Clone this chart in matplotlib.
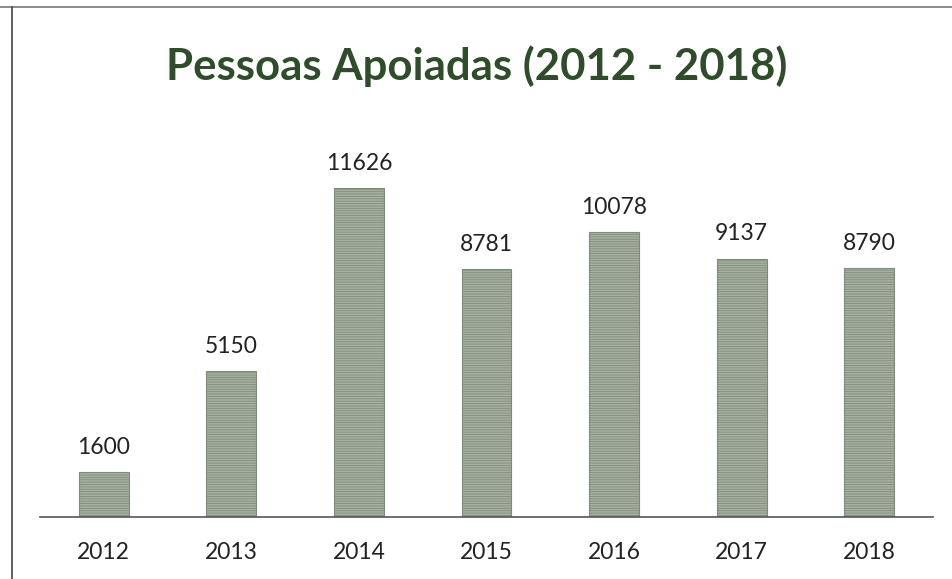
import matplotlib.pyplot as plt
from matplotlib.lines import Line2D

anos = ['2012', '2013', '2014', '2015', '2016', '2017', '2018']
pessoas = [1600, 5150, 11626, 8781, 10078, 9137, 8790]

plt.rcParams['font.family'] = ['Lato', 'DejaVu Sans']
plt.rcParams['hatch.linewidth'] = 0.6

fig = plt.figure(figsize=(9.53, 5.79), dpi=100)
ax = fig.add_axes([0.042, 0.107, 0.937, 0.684])

x = range(len(anos))
barras = ax.bar(x, pessoas, width=0.39, color='#a7b1a2', edgecolor='#808c7a',
                hatch='-------', linewidth=0.8)

for xi, v in zip(x, pessoas):
    ax.text(xi, v + 500, str(v), ha='center', va='bottom', fontsize=16.5, color='#222222')

ax.set_xlim(-0.5, len(anos) - 0.5)
ax.set_ylim(0, 14000)
ax.set_xticks(list(x))
ax.set_xticklabels(anos, fontsize=16.5, color='#222222')
ax.tick_params(axis='x', length=0, pad=18)
ax.set_yticks([])
for s in ['top', 'right', 'left']:
    ax.spines[s].set_visible(False)
ax.spines['bottom'].set_color('#555555')
ax.spines['bottom'].set_linewidth(1.2)

fig.text(0.5, 0.885, 'Pessoas Apoiadas (2012 - 2018)', ha='center', va='center',
         fontsize=31.5, fontweight='bold', color='#2f4d2a')

# moldura do gráfico
fig.add_artist(Line2D([0, 1], [0.988, 0.988], color='#777777', lw=1.2))
fig.add_artist(Line2D([0.013, 0.013], [0, 0.988], color='#444444', lw=1.2))

plt.savefig('out.png', dpi=100)
plt.close()
